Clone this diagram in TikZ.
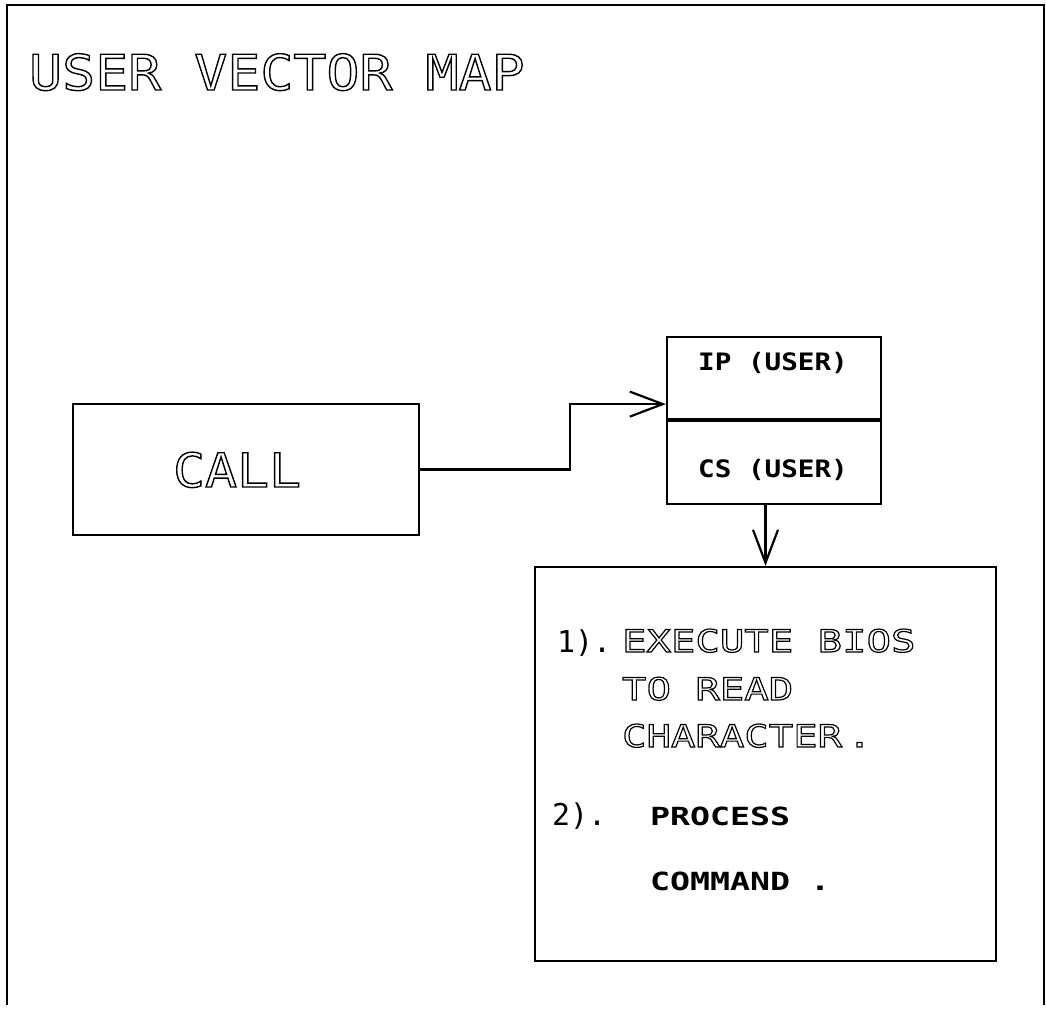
\documentclass[tikz,border=0pt]{standalone}
\usepackage{fontspec}
\usetikzlibrary{positioning,arrows.meta,calc}
\newfontfamily\numfont{DejaVu Sans Mono}
\newfontfamily\titlefont[FakeStretch=1.12]{DejaVu Sans Mono}
\newfontfamily\callfont[FakeStretch=1.13]{DejaVu Sans Mono}
\newfontfamily\stepfont[FakeStretch=1.31]{DejaVu Sans Mono}
\newfontfamily\stencilfont[FakeStretch=1.15]{DejaVu Sans Mono}
\newfontfamily\widestencil[FakeStretch=1.33]{DejaVu Sans Mono}
% outlined letters: stroke the glyphs instead of filling them
\newcommand\hollow[2][1.2]{\special{pdf:literal direct 1 Tr #1 w}#2\special{pdf:literal direct 0 Tr}}

\begin{document}
\begin{tikzpicture}[x=1pt,y=-1pt,line width=2.2pt,
   box/.style={draw,rectangle,inner sep=0pt},
   flow/.style={-{Straight Barb[length=33pt,width=25pt,line width=2.2pt]}},
   txt/.style={anchor=base west,inner sep=0pt},
   numtxt/.style={txt,font=\numfont\fontsize{30}{30}\selectfont},
   steptxt/.style={txt,font=\stepfont\fontsize{31}{31}\selectfont},
   cmdtxt/.style={txt,font=\widestencil\bfseries\fontsize{25}{25}\selectfont},
   tag/.style={anchor=base,inner sep=0pt,font=\stencilfont\bfseries\fontsize{24}{24}\selectfont}]
\useasboundingbox (0,0) rectangle (1046,1009);
% sheet border, open at the foot
\draw (7,1005) -- (7,5) -- (1044,5) -- (1044,1005);
\node[txt] (title) at (28,90) {\titlefont\fontsize{49}{49}\selectfont\hollow[1.4]{USER VECTOR MAP}};
% boxes
\node[box,minimum width=346pt,minimum height=131pt] (call) at (246,469.5) {};
\node[txt] (calllab) at (172,487) {\callfont\fontsize{47}{47}\selectfont\hollow[1.4]{CALL}};
\node[box,minimum width=214pt,minimum height=82pt] (ip) at (774,378) {};
\node[box,anchor=north,minimum width=214pt,minimum height=83pt] (cs) at (ip.south) {};
\node[tag] (iplab) at (773,370) {IP (USER)};
\node[tag] (cslab) at (773,477) {CS (USER)};
\node[box,minimum width=461pt,minimum height=394pt] (exec) at (765.5,764) {};
% connectors
\coordinate (ipin) at ($(ip.south west)+(0,-16)$);
\draw[flow] (call.east) -- ++(150,0) |- (ipin);
\draw[flow] (exec.north |- cs.south) -- (exec.north);
% steps inside the routine box
\node[numtxt] (num1) at (556,652) {1).};
\node[steptxt] (line1) at (621,652) {\hollow{EXECUTE BIOS}};
\node[steptxt] (line2) at (621,700) {\hollow{TO READ}};
\node[steptxt] (line3) at (621,747) {\hollow{CHARACTER}\,\hollow{.}};
\node[numtxt] (num2) at (551,825) {2).};
\node[cmdtxt] (line4) at (649,825) {PROCESS};
\node[cmdtxt] (line5) at (649,890) {COMMAND .};
\end{tikzpicture}
\end{document}
